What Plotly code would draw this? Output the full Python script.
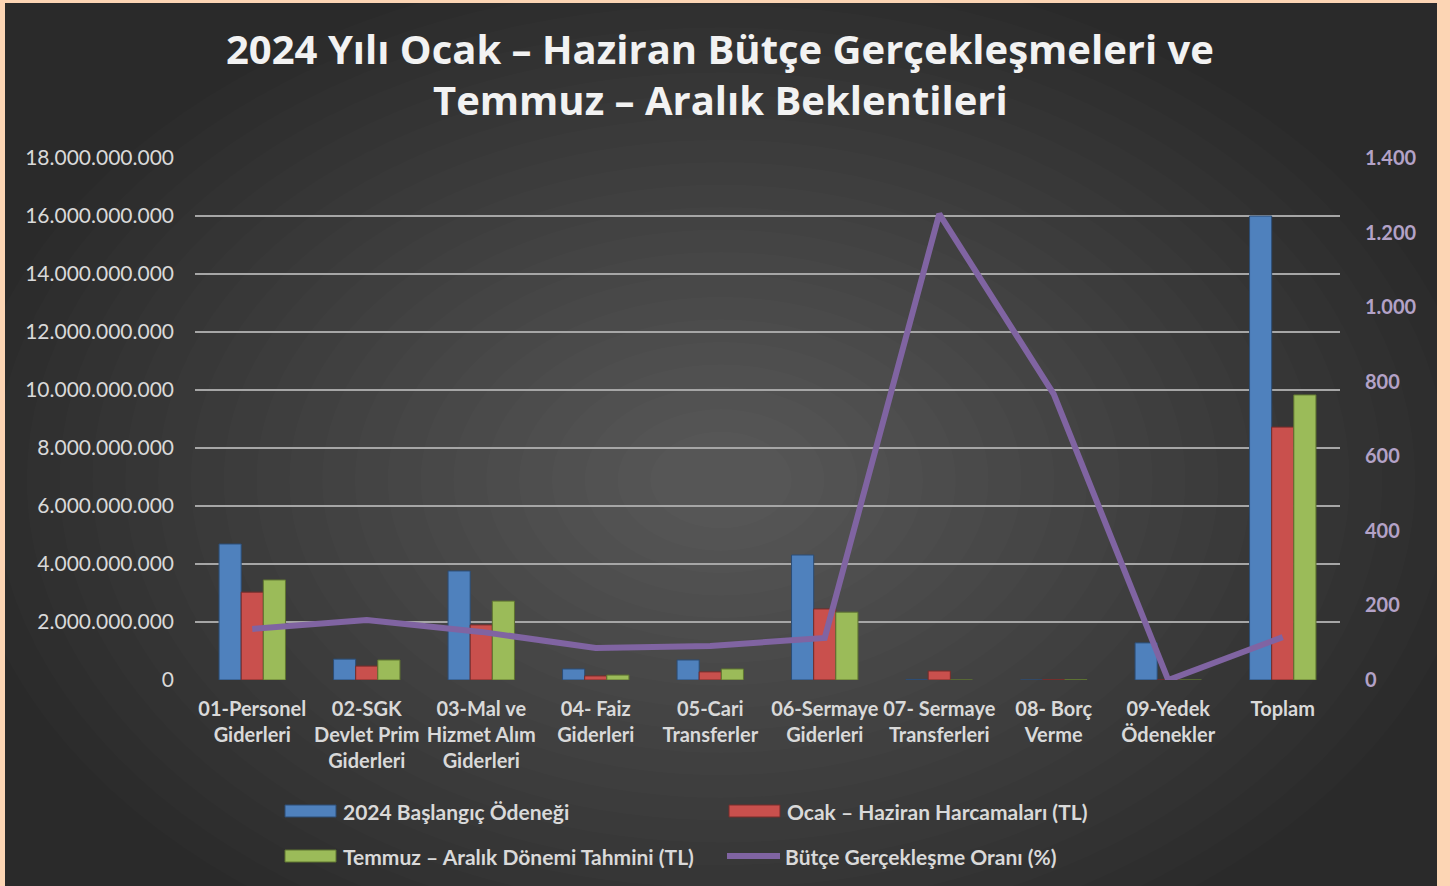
import plotly.graph_objects as go

categories = ["01-Personel<br>Giderleri", "02-SGK<br>Devlet Prim<br>Giderleri",
              "03-Mal ve<br>Hizmet Alım<br>Giderleri", "04- Faiz<br>Giderleri",
              "05-Cari<br>Transferler", "06-Sermaye<br>Giderleri",
              "07- Sermaye<br>Transferleri", "08- Borç<br>Verme",
              "09-Yedek<br>Ödenekler", "Toplam"]
baslangic = [4.69e9, 0.72e9, 3.76e9, 0.38e9, 0.69e9, 4.31e9, 0.02e9, 0.0, 1.28e9, 16.0e9]
harcama = [3.03e9, 0.48e9, 1.90e9, 0.14e9, 0.28e9, 2.45e9, 0.31e9, 0.01e9, 0.0, 8.72e9]
tahmin = [3.45e9, 0.69e9, 2.72e9, 0.17e9, 0.38e9, 2.34e9, 0.0, 0.01e9, 0.0, 9.83e9]
oran = [137, 161, 129, 86, 91, 113, 1250, 767, 0, 115]

left_ticks = [0, 2e9, 4e9, 6e9, 8e9, 10e9, 12e9, 14e9, 16e9, 18e9]
left_labels = ["0", "2.000.000.000", "4.000.000.000", "6.000.000.000", "8.000.000.000",
               "10.000.000.000", "12.000.000.000", "14.000.000.000", "16.000.000.000",
               "18.000.000.000"]
right_ticks = [0, 200, 400, 600, 800, 1000, 1200, 1400]
right_labels = ["0", "200", "400", "600", "800", "1.000", "1.200", "1.400"]

series_names = ["2024 Başlangıç Ödeneği", "Ocak – Haziran Harcamaları (TL)",
                "Temmuz – Aralık Dönemi Tahmini (TL)", "Bütçe Gerçekleşme Oranı (%)"]
title_lines = ["2024 Yılı Ocak – Haziran Bütçe Gerçekleşmeleri ve", "Temmuz – Aralık Beklentileri"]
colors = ["#4f81bd", "#c9504d", "#9bbb59", "#8064a2"]
edge = ["#2c4d75", "#772c2a", "#5f7530"]

W, H = 1450, 886
L, R, T, B = 195, 1340, 158, 680


def px(x):
    return (x - L) / (R - L)


def py(y):
    return (B - y) / (B - T)


FONT = "Lato"
fig = go.Figure()
for vals, name, c, e in zip([baslangic, harcama, tahmin], series_names[:3], colors[:3], edge):
    fig.add_trace(go.Bar(x=categories, y=vals, name=name, marker=dict(color=c, line=dict(color=e, width=1)),
                         showlegend=False))
fig.add_trace(go.Scatter(x=categories, y=oran, name=series_names[3], yaxis="y2", mode="lines",
                         line=dict(color=colors[3], width=6), showlegend=False))

shapes = []
# dark chart area
shapes.append(dict(type="rect", xref="paper", yref="paper", x0=px(5), x1=px(1437), y0=py(3), y1=py(890),
                   fillcolor="#2a2a2a", line=dict(width=0), layer="below"))
cx, cy = 721, 480
N = 22
for i in range(N):
    f = 1 - i * (0.95 / N)
    shapes.append(dict(type="circle", xref="paper", yref="paper",
                       x0=px(cx - 760 * f), x1=px(cx + 760 * f), y0=py(cy - 520 * f), y1=py(cy + 520 * f),
                       fillcolor="rgba(255,255,255,0.0105)", line=dict(width=0), layer="below"))
# clip outer frame back to the border colour
shapes.append(dict(type="rect", xref="paper", yref="paper", x0=px(-10), x1=px(5), y0=py(-10), y1=py(900),
                   fillcolor="#fcd5b4", line=dict(width=0), layer="below"))
shapes.append(dict(type="rect", xref="paper", yref="paper", x0=px(1437), x1=px(1460), y0=py(-10), y1=py(900),
                   fillcolor="#fcd5b4", line=dict(width=0), layer="below"))
shapes.append(dict(type="rect", xref="paper", yref="paper", x0=px(-10), x1=px(1460), y0=py(-10), y1=py(3),
                   fillcolor="#fcd5b4", line=dict(width=0), layer="below"))

# custom legend
leg = [(285, 811, 0), (729, 811, 1), (285, 856, 2), (727, 856, 3)]
annotations = []
for x, y, k in leg:
    if k < 3:
        shapes.append(dict(type="rect", xref="paper", yref="paper", x0=px(x), x1=px(x + 51),
                           y0=py(y + 6), y1=py(y - 6), fillcolor=colors[k], line=dict(color=edge[k], width=1)))
    else:
        shapes.append(dict(type="line", xref="paper", yref="paper", x0=px(x), x1=px(x + 53),
                           y0=py(y), y1=py(y), line=dict(color=colors[k], width=6)))
    annotations.append(dict(text=series_names[k], xref="paper", yref="paper", x=px(x + 56), y=py(y),
                            xanchor="left", yanchor="middle", showarrow=False,
                            font=dict(family=FONT, size=21, color="#d9d9d9", weight="bold")))

for txt, yc in zip(title_lines, [48, 100]):
    annotations.append(dict(text=txt, xref="paper", yref="paper", x=px(720), y=py(yc),
                            xanchor="center", yanchor="middle", showarrow=False,
                            font=dict(family="Open Sans", size=40, color="#f2f2f2", weight="bold")))

fig.update_layout(
    width=W, height=H,
    margin=dict(l=L, r=W - R, t=T, b=H - B),
    paper_bgcolor="#fcd5b4", plot_bgcolor="rgba(0,0,0,0)",
    barmode="group", bargap=0.42, bargroupgap=0,
    xaxis=dict(showgrid=False, showline=False, ticks="", zeroline=False, ticklabelstandoff=15,
               tickfont=dict(family=FONT, size=20, color="#d9d9d9", weight="bold")),
    yaxis=dict(range=[0, 18e9], tickvals=left_ticks, ticktext=left_labels, showgrid=True,
               gridcolor="#a6a6a6", gridwidth=2, zeroline=False, showline=False, ticks="",
               ticklabelstandoff=20,
               tickfont=dict(family=FONT, size=21, color="#d9d9d9")),
    yaxis2=dict(range=[0, 1400], tickvals=right_ticks, ticktext=right_labels, overlaying="y", side="right",
                showgrid=False, zeroline=False, showline=False, ticks="", ticklabelstandoff=24,
                tickfont=dict(family=FONT, size=20, color="#b3a2c7", weight="bold")),
    shapes=shapes, annotations=annotations,
)

fig.write_html("out.html", config={"displayModeBar": False},
               post_script="document.body.style.margin='0';")
